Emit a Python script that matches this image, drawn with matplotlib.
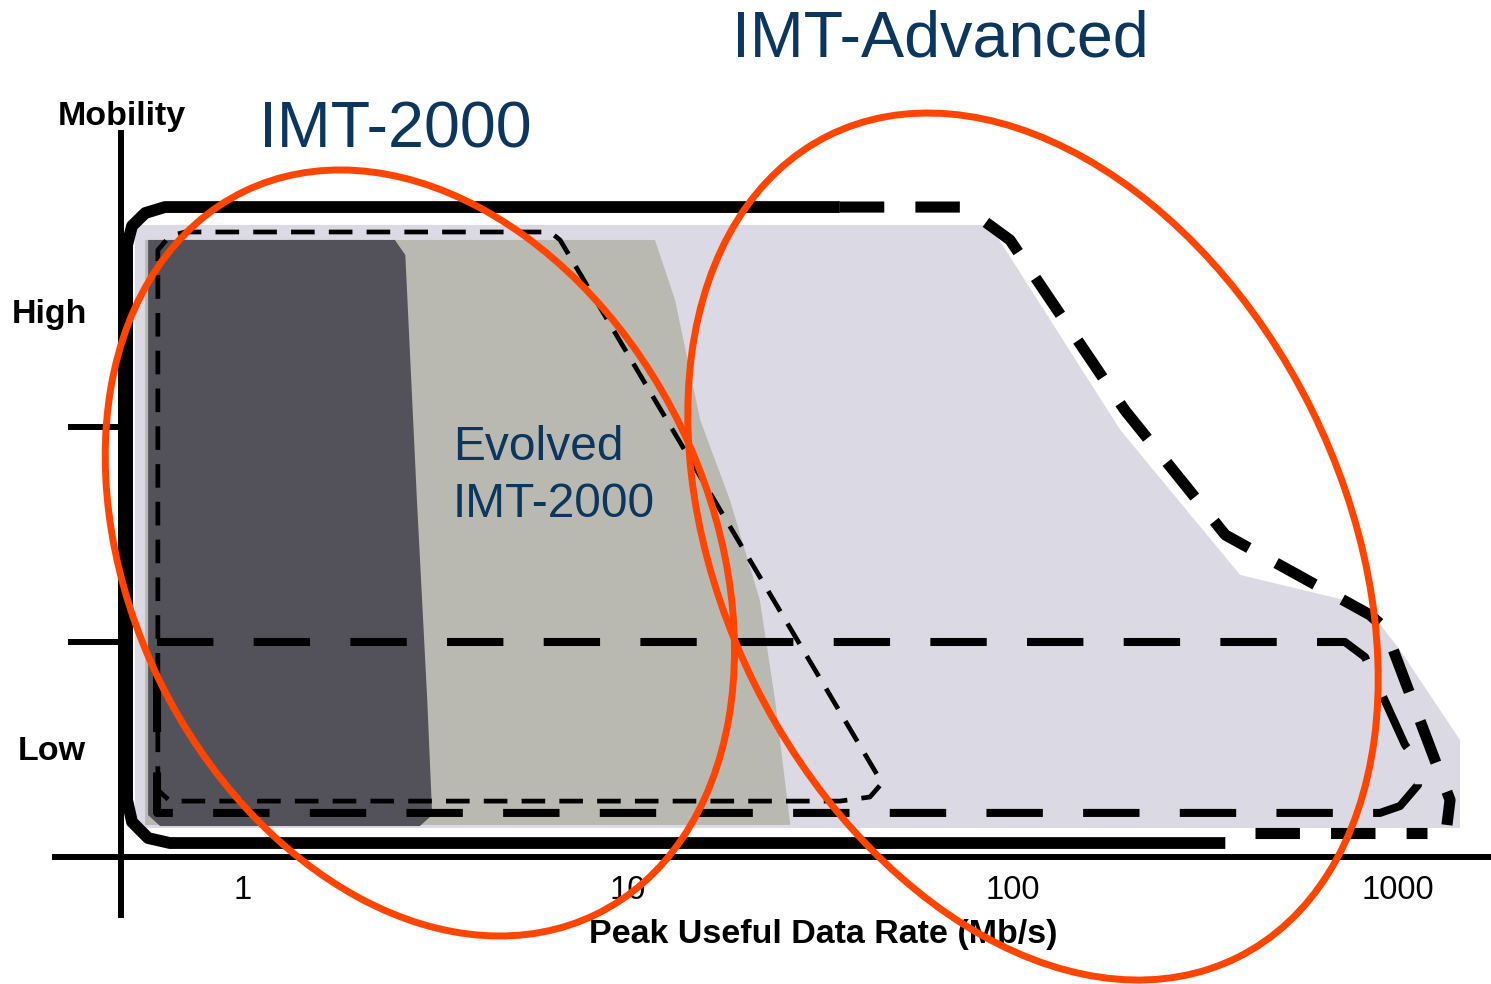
import matplotlib
matplotlib.use("Agg")
import matplotlib.pyplot as plt
from matplotlib.patches import Ellipse
from matplotlib.ticker import NullLocator
from matplotlib.transforms import ScaledTranslation

plt.rcParams['font.family'] = ['Liberation Sans', 'DejaVu Sans']

# ---- axis data -------------------------------------------------------------
rate_ticks = [1, 10, 100, 1000]
rate_labels = ["1", "10", "100", "1000"]
mobility_ticks = [1, 2]

# ---- shaded areas (rate in Mb/s, mobility level) ---------------------------
advanced_rate = [0.524, 87, 190, 389, 821, 1012, 1449, 1449, 0.524]
advanced_mob = [2.94, 2.94, 1.986, 1.312, 1.172, 0.963, 0.544, 0.135, 0.135]

evolved_rate = [0.557, 11.75, 13.25, 15.4, 18.4, 22.0, 24.1, 26.4, 0.557]
evolved_mob = [2.87, 2.87, 2.591, 2.033, 1.66, 1.195, 0.73, 0.149, 0.149]

imt2000_rate = [0.567, 2.48, 2.64, 2.83, 3.01, 3.10, 2.88, 0.609, 0.567]
imt2000_mob = [2.87, 2.87, 2.80, 1.66, 0.73, 0.195, 0.144, 0.144, 0.195]

# ---- outlines --------------------------------------------------------------
outer_solid_rate = [35.5, 0.627, 0.557, 0.515, 0.50, 0.50, 0.515, 0.567, 0.646, 356]
outer_solid_mob = [3.023, 3.023, 2.995, 2.935, 2.847, 0.265, 0.163, 0.088, 0.065, 0.065]

outer_dash_rate = [35.5, 75, 98.2, 195, 356, 846, 925, 1365, 1340]
outer_dash_mob = [3.023, 3.023, 2.87, 2.079, 1.498, 1.126, 1.065, 0.265, 0.149]

outer_bottom_rate = [425, 1190]
outer_bottom_mob = [0.112, 0.112]

low_rate = [0.598, 728, 821, 1043, 1127, 1127, 1012, 898, 0.598, 0.598]
low_mob = [1.0, 1.0, 0.93, 0.521, 0.442, 0.335, 0.237, 0.205, 0.205, 1.0]

evo_line_rate = [0.601, 0.601, 0.646, 0.707, 6.27, 6.66, 45.7, 42.5, 35.5, 0.646, 0.601]
evo_line_mob = [0.312, 2.823, 2.888, 2.907, 2.907, 2.87, 0.344, 0.279, 0.26, 0.26, 0.312]

fig = plt.figure(figsize=(14.91, 9.84), dpi=100)
ax = fig.add_axes([0, 0, 1, 1])
ax.set_xscale('log')
ax.set_xlim(0.2338, 1744)
ax.set_ylim(-0.5907, 3.986)
ax.patch.set_alpha(0)

# fills
ax.fill(advanced_rate, advanced_mob, color='#dbdae4', lw=0, zorder=1)
ax.fill(evolved_rate, evolved_mob, color='#bab9b1', lw=0, zorder=2)
ax.fill(imt2000_rate, imt2000_mob, color='#53525b', lw=0, zorder=3)

# outlines
ax.plot(outer_solid_rate, outer_solid_mob, color='black', lw=8.5,
        solid_joinstyle='round', solid_capstyle='butt', zorder=5)
ax.plot(outer_dash_rate, outer_dash_mob, color='black', lw=8.0,
        linestyle=(0, (4, 2.8)), dash_capstyle='butt', zorder=5)
ax.plot(outer_bottom_rate, outer_bottom_mob, color='black', lw=8.0,
        linestyle=(0, (4, 2.8)), dash_capstyle='butt', zorder=5)
ax.plot(low_rate, low_mob, color='black', lw=5.8,
        linestyle=(0, (7, 5)), dash_capstyle='butt', zorder=6)
ax.plot(evo_line_rate, evo_line_mob, color='black', lw=3.4,
        linestyle=(0, (5, 3)), dash_capstyle='butt', zorder=6)

# axes
for side in ['top', 'right']:
    ax.spines[side].set_visible(False)
ax.spines['left'].set_position(('data', 0.482))
ax.spines['left'].set_bounds(-0.27, 3.367)
ax.spines['bottom'].set_position(('data', 0))
ax.spines['bottom'].set_bounds(0.325, 1744)
for side in ['left', 'bottom']:
    ax.spines[side].set_linewidth(4.3)
    ax.spines[side].set_zorder(4)

ax.set_yticks(mobility_ticks)
ax.set_yticklabels([])
ax.tick_params(axis='y', direction='out', length=38, width=4.3)
ax.set_xticks(rate_ticks)
ax.set_xticklabels(rate_labels)
ax.xaxis.set_minor_locator(NullLocator())
ax.tick_params(axis='x', length=0, pad=13, labelsize=23.5)

ax.text(32.1, -0.40, "Peak Useful Data Rate (Mb/s)", fontsize=24.5,
        fontweight='bold', ha='center', va='baseline')
ax.text(0.33, 3.405, "Mobility", fontsize=24.5, fontweight='bold', va='baseline')
ax.text(0.251, 2.484, "High", fontsize=24.5, fontweight='bold', va='baseline')
ax.text(0.260, 0.451, "Low", fontsize=24.5, fontweight='bold', va='baseline')

blue = '#0b365e'
ax.text(1.10, 3.298, "IMT-2000", fontsize=46.5, color=blue, va='baseline')
ax.text(18.6, 3.721, "IMT-Advanced", fontsize=46.5, color=blue, va='baseline')
ax.text(3.51, 1.847, "Evolved", fontsize=34.5, color=blue, va='baseline', zorder=7)
ax.text(3.51, 1.581, "IMT-2000", fontsize=34.5, color=blue, va='baseline', zorder=7)

# red coverage ellipses (sizes in inches so they stay true ellipses)
for cx, cy, w, h, ang in [(2.88, 1.414, 5.80, 8.04, 26), (112.7, 1.444, 6.21, 9.18, 26.5)]:
    trans = fig.dpi_scale_trans + ScaledTranslation(cx, cy, ax.transData)
    ax.add_patch(Ellipse((0, 0), w, h, angle=ang, fill=False, edgecolor='#ff4500',
                         lw=5, transform=trans, zorder=10))

fig.savefig("out.png", dpi=100)
